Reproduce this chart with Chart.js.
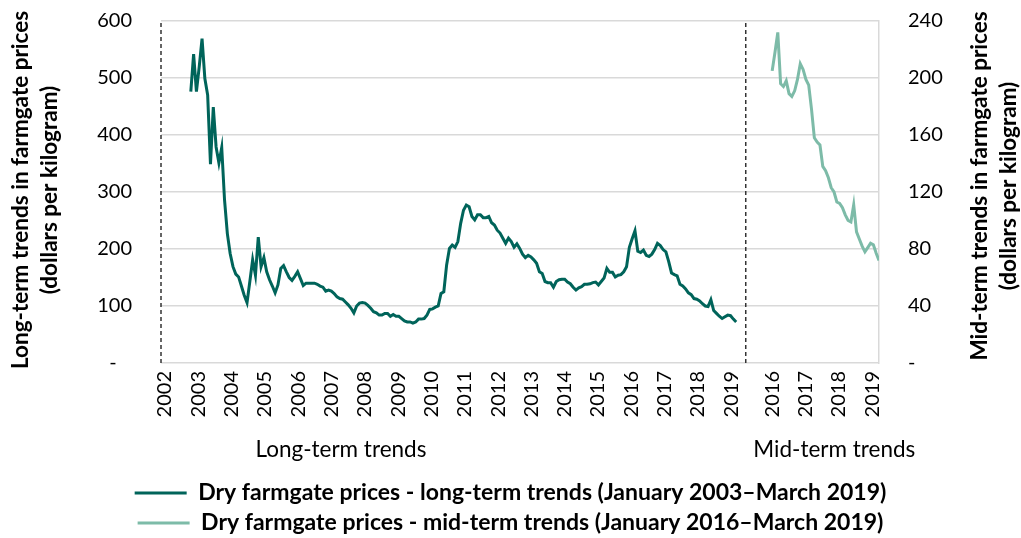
<!DOCTYPE html>
<html>
<head>
<meta charset="utf-8">
<script src="https://cdn.jsdelivr.net/npm/chart.js@4.4.1/dist/chart.umd.min.js"></script>
<style>
  html, body { margin: 0; padding: 0; background: #fff; }
</style>
</head>
<body>
<canvas id="chart" width="1021" height="538"></canvas>
<script>
/* ---------------------------------------------------------------
   Dry farmgate prices — long-term (2003-2019) and mid-term (2016-2019)
   --------------------------------------------------------------- */

// monthly prices, January 2003 – March 2019 (dollars per kilogram)
const longTermPrices = [
  476, 542, 476, 520, 569, 499, 470, 349, 449, 379, 351, 378,   // 2003
  286, 227, 192, 169, 156, 151, 135, 119, 106, 143, 181, 154,   // 2004
  221, 169, 185, 160, 146, 135, 123, 137, 166, 171, 160, 150,   // 2005
  145, 152, 160, 148, 136, 140, 140, 140, 140, 138, 135, 133,   // 2006
  126, 128, 126, 122, 116, 113, 112, 107, 102, 96, 88, 100,     // 2007
  105, 106, 105, 101, 96, 90, 88, 84, 84, 87, 87, 82,           // 2008
  85, 82, 82, 78, 74, 72, 72, 70, 72, 77, 77, 78,               // 2009
  84, 94, 95, 98, 100, 122, 125, 172, 201, 207, 203, 213,       // 2010
  245, 268, 277, 274, 257, 251, 260, 260, 255, 255, 257, 246,   // 2011
  242, 233, 228, 219, 210, 219, 213, 203, 209, 201, 191, 185,   // 2012
  189, 186, 181, 175, 160, 157, 143, 141, 141, 133, 143, 146,   // 2013
  147, 147, 142, 139, 133, 128, 132, 134, 138, 138, 139, 141,   // 2014
  142, 137, 143, 149, 166, 159, 159, 151, 154, 155, 160, 169,   // 2015
  203, 218, 232, 196, 194, 198, 189, 187, 191, 199, 210, 206,   // 2016
  199, 195, 178, 158, 155, 153, 138, 135, 130, 123, 120, 113,   // 2017
  112, 109, 104, 100, 99, 111, 92, 87, 82, 78, 81, 84,          // 2018
  83, 77, 72                                                    // 2019
];

// monthly prices, January 2016 – March 2019 (right axis)
const midTermPrices = [
  205, 218, 232, 196, 194, 198, 189, 187, 191, 199, 210, 206,   // 2016
  199, 195, 178, 158, 155, 153, 138, 135, 130, 123, 120, 113,   // 2017
  112, 109, 104, 100, 99, 111, 92, 87, 82, 78, 81, 84,          // 2018
  83, 77, 72                                                    // 2019
];

const longTermYears = ["2002", "2003", "2004", "2005", "2006", "2007", "2008", "2009", "2010",
                       "2011", "2012", "2013", "2014", "2015", "2016", "2017", "2018", "2019"];
const midTermYears = ["2016", "2017", "2018", "2019"];
const groupLabels = ["Long-term trends", "Mid-term trends"];
const leftTitle = ["Long-term trends in farmgate prices", "(dollars per kilogram)"];
const rightTitle = ["Mid-term trends in farmgate prices", "(dollars per kilogram)"];
const seriesNames = [
  "Dry farmgate prices - long-term trends (January 2003\u2013March 2019)",
  "Dry farmgate prices - mid-term trends (January 2016\u2013March 2019)"
];

// x axis runs in months; the two panels share one linear scale
const X_MAX = 255.4;
const LT_START = 10.6;      // Jan 2003
const MID_START = 217.4;    // Jan 2016 (mid-term panel)
const SPLIT_AT = 208;       // dashed divider between the panels
const LT_TICK0 = 1.4;
const MID_TICK0 = 217.4;
const TICK_STEP = 11.85;
const GROUP_AT = [64, 239.5];

// layout
const PLOT_LEFT = 161, PLOT_RIGHT = 879, PLOT_TOP = 21, PLOT_BOTTOM = 363;
const PAD_BOTTOM = -6.5;

const DARK = "#00645A";
const LIGHT = "#7DBBA8";
const GRID = "#d9d9d9";
const TEXT = "#000000";
const FONT = "Lato";

Chart.defaults.font.family = FONT;
Chart.defaults.color = TEXT;

const tickValues = [
  ...longTermYears.map((_, i) => LT_TICK0 + i * TICK_STEP),
  ...midTermYears.map((_, i) => MID_TICK0 + i * TICK_STEP)
];
const tickLabels = [...longTermYears, ...midTermYears];

// titles and panel captions
const axisTextPlugin = {
  id: "axisText",
  afterDraw(chart) {
    const { ctx } = chart;
    const x = chart.scales.x;
    ctx.save();
    ctx.fillStyle = TEXT;
    ctx.textAlign = "center";
    ctx.textBaseline = "middle";

    ctx.font = `bold 22.5px ${FONT}`;
    const drawUp = (lines, xs, yc) => {
      lines.forEach((txt, i) => {
        ctx.save();
        ctx.translate(xs[i], yc);
        ctx.rotate(-Math.PI / 2);
        ctx.fillText(txt, 0, 0);
        ctx.restore();
      });
    };
    drawUp(leftTitle, [21, 50], 190);
    drawUp(rightTitle, [980, 1009], 186);

    ctx.font = `22.5px ${FONT}`;
    groupLabels.forEach((txt, i) => {
      ctx.fillText(txt, x.getPixelForValue(GROUP_AT[i]), 450);
    });
    ctx.restore();
  }
};

const dividerStyle = {
  type: "line",
  yAxisID: "y",
  borderColor: "#333333",
  borderWidth: 1.5,
  borderDash: [4, 3],
  pointRadius: 0,
  clip: false,
  isDivider: true
};

// invisible tick marks push the labels away from the plot
const hiddenTicks = { drawTicks: true, tickLength: 21, tickColor: "rgba(0,0,0,0)" };

new Chart(document.getElementById("chart"), {
  type: "line",
  data: {
    datasets: [
      {
        label: seriesNames[0],
        data: longTermPrices.map((v, i) => ({ x: LT_START + i, y: v })),
        borderColor: DARK,
        backgroundColor: DARK,
        borderWidth: 3,
        pointRadius: 0,
        tension: 0,
        yAxisID: "y"
      },
      {
        label: seriesNames[1],
        data: midTermPrices.map((v, i) => ({ x: MID_START + i, y: v })),
        borderColor: LIGHT,
        backgroundColor: LIGHT,
        borderWidth: 3,
        pointRadius: 0,
        tension: 0,
        yAxisID: "y1"
      },
      { ...dividerStyle, label: "", data: [{ x: 0, y: 0 }, { x: 0, y: 600 }] },
      { ...dividerStyle, label: "", data: [{ x: SPLIT_AT, y: 0 }, { x: SPLIT_AT, y: 600 }] }
    ]
  },
  options: {
    responsive: false,
    animation: false,
    layout: { padding: { top: PLOT_TOP, left: 0, right: 0, bottom: PAD_BOTTOM } },
    plugins: {
      tooltip: { enabled: false },
      legend: {
        position: "bottom",
        labels: {
          color: TEXT,
          font: { size: 23, weight: "bold" },
          boxWidth: 52,
          boxHeight: 3,
          padding: 7,
          generateLabels(chart) {
            return Chart.defaults.plugins.legend.labels.generateLabels(chart)
              .filter(item => !chart.data.datasets[item.datasetIndex].isDivider)
              .map(item => ({ ...item, lineWidth: 0 }));
          }
        }
      }
    },
    scales: {
      x: {
        type: "linear",
        min: 0,
        max: X_MAX,
        grid: { display: false, drawTicks: false },
        border: { display: false },
        afterBuildTicks(scale) {
          scale.ticks = tickValues.map(v => ({ value: v }));
        },
        afterFit(scale) {
          scale.height = scale.chart.height - PLOT_BOTTOM - scale.chart.legend.height - PAD_BOTTOM;
        },
        ticks: {
          autoSkip: false,
          minRotation: 90,
          maxRotation: 90,
          padding: 8,
          font: { size: 20 },
          callback: (v, i) => tickLabels[i]
        }
      },
      y: {
        position: "left",
        min: 0,
        max: 600,
        grid: { color: GRID, lineWidth: 1.5, ...hiddenTicks },
        border: { display: false },
        afterFit(scale) { scale.width = PLOT_LEFT; },
        ticks: {
          stepSize: 100,
          padding: 8,
          font: { size: 20 },
          callback: v => (v === 0 ? "-   " : v)
        }
      },
      y1: {
        position: "right",
        min: 0,
        max: 240,
        grid: { drawOnChartArea: false, ...hiddenTicks },
        border: { display: true, color: GRID, width: 1.5 },
        afterFit(scale) { scale.width = scale.chart.width - PLOT_RIGHT; },
        ticks: {
          stepSize: 40,
          padding: 8,
          font: { size: 20 },
          callback: v => (v === 0 ? "-" : v)
        }
      }
    }
  },
  plugins: [axisTextPlugin]
});
</script>
</body>
</html>
